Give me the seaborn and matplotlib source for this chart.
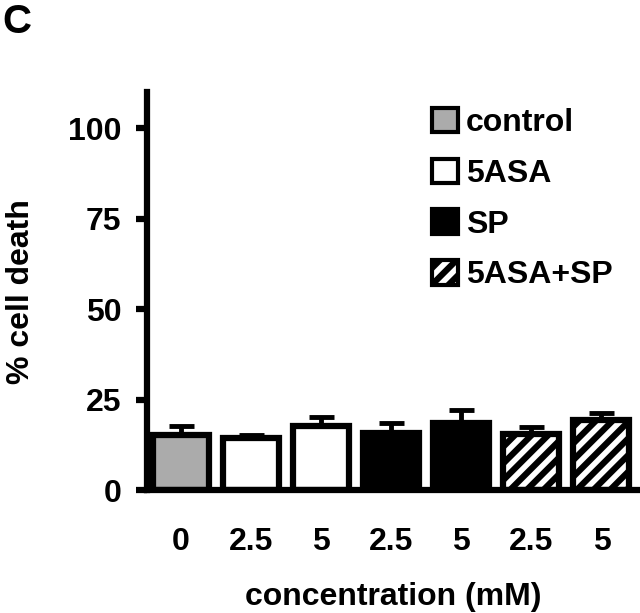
import matplotlib
matplotlib.use("Agg")
import matplotlib.pyplot as plt
from matplotlib.patches import Patch
import seaborn as sns
import pandas as pd
import numpy as np

# ---- data ----
groups = ["control", "5ASA", "5ASA", "SP", "SP", "5ASA+SP", "5ASA+SP"]
conc_labels = ["0", "2.5", "5", "2.5", "5", "2.5", "5"]
values = [15.3, 14.6, 17.8, 15.9, 18.6, 15.6, 19.5]
errors = [2.5, 0.8, 2.4, 2.6, 3.5, 1.9, 1.8]
legend_labels = ["control", "5ASA", "SP", "5ASA+SP"]

sns.set_theme(style="white")
plt.rcParams["font.family"] = ["Liberation Sans", "DejaVu Sans"]
plt.rcParams["font.weight"] = "bold"
plt.rcParams["hatch.linewidth"] = 4.5
plt.rcParams["hatch.color"] = "black"
for k in ["text.color", "axes.labelcolor", "xtick.color", "ytick.color",
          "xtick.labelcolor", "ytick.labelcolor"]:
    plt.rcParams[k] = "black"

FS = 23
fill = {"control": "#ababab", "5ASA": "white", "SP": "black", "5ASA+SP": "white"}
hatch = {"control": "", "5ASA": "", "SP": "", "5ASA+SP": "//"}

df = pd.DataFrame({"pos": [str(i) for i in range(len(values))],
                   "group": groups, "value": values})

fig = plt.figure(figsize=(6.4, 6.13), dpi=100)
ax = fig.add_axes([0.229, 0.2, 0.771, 0.65])

sns.barplot(data=df, x="pos", y="value", hue="pos",
            palette=[fill[g] for g in groups], legend=False,
            width=0.8, edgecolor="black", linewidth=4.5, ax=ax, errorbar=None)

for p, g in zip(ax.patches, groups):
    p.set_hatch(hatch[g])
    p.set_edgecolor("black")
    p.set_zorder(2)

xs = [p.get_x() + p.get_width() / 2 for p in ax.patches]
ax.errorbar(xs, values, yerr=[np.zeros(len(values)), errors], fmt="none",
            ecolor="black", elinewidth=3.5, capsize=9, capthick=3.5, zorder=1)

ax.set_ylim(0, 110)
ax.set_xlim(-0.49, 6.55)
ax.set_yticks([0, 25, 50, 75, 100])
ax.set_xticks(range(len(values)))
ax.set_xticklabels(conc_labels)
ax.tick_params(axis="y", length=8, width=4.5, labelsize=FS, pad=10, left=True,
               direction="out", colors="black")
ax.tick_params(axis="x", length=0, labelsize=FS, pad=26, colors="black")
for lbl in ax.get_xticklabels() + ax.get_yticklabels():
    lbl.set_fontweight("bold")
    lbl.set_color("black")

for s in ["top", "right"]:
    ax.spines[s].set_visible(False)
for s in ["left", "bottom"]:
    ax.spines[s].set_linewidth(4.5)
    ax.spines[s].set_color("black")

ax.set_xlabel("concentration (mM)", fontsize=FS, fontweight="bold", labelpad=18, color="black")
ax.set_ylabel("% cell death", fontsize=FS, fontweight="bold", color="black")
ax.yaxis.set_label_coords(-0.225, 0.5)

handles = [Patch(facecolor=fill[g], edgecolor="black", linewidth=3, hatch=hatch[g])
           for g in legend_labels]
leg = ax.legend(handles, legend_labels, loc="upper left", bbox_to_anchor=(0.5785, 0.96),
                frameon=False, handlelength=0.8, handleheight=0.8,
                handletextpad=0.25, labelspacing=0.64, borderpad=0, borderaxespad=0,
                prop={"weight": "bold", "size": FS}, labelcolor="black")

fig.text(0.004, 0.995, "C", fontsize=29, fontweight="bold", va="top", ha="left", color="black")

fig.savefig("out.png", dpi=100)
